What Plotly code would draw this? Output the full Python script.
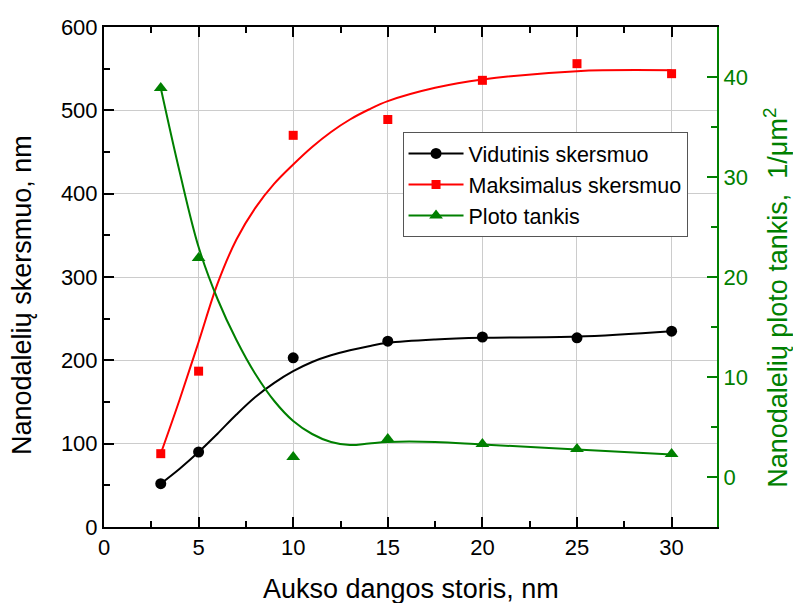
import plotly.graph_objects as go

# ---- data ----
thickness = [3, 5, 10, 15, 20, 25, 30]
mean_diam = [52, 90, 203, 223, 228, 227, 235]
max_diam = [88, 187, 470, 489, 536, 556, 544]
density = [38.9, 21.9, 2.0, 3.8, 3.3, 2.8, 2.3]

# fitted curves as drawn in the picture (read at sample points)
fit_x = [3, 4, 5, 6, 7, 8, 9, 10, 11, 12, 13, 14, 15, 17.5, 20, 25, 30]
mean_fit_y = [52, 70, 90, 112, 135, 156, 173, 187, 198, 206, 212, 217, 221, 225, 227, 228.5, 235]
max_fit_y = [88, 153, 222, 292, 345, 383, 412, 435, 456, 474, 489, 501, 511, 527, 537, 547, 548]
dens_fit_y = [38.9, 30.5, 23.0, 17.8, 13.7, 10.3, 7.6, 5.6, 4.3, 3.5, 3.2, 3.35, 3.5, 3.5, 3.25, 2.75, 2.25]

names = ["Vidutinis skersmuo", "Maksimalus skersmuo", "Ploto tankis"]
x_title = "Aukso dangos storis, nm"
y_title = "Nanodalelių skersmuo, nm"
y2_title = "Nanodalelių ploto tankis,  1/μm<sup>2</sup>"

BLACK = "#000000"
RED = "#ff0000"
GREEN = "#008000"
FONT = "Liberation Sans, Arial, sans-serif"

fig = go.Figure()

# curves
fig.add_trace(go.Scatter(x=fit_x, y=mean_fit_y, mode="lines", line=dict(color=BLACK, width=2, shape="spline"), showlegend=False, hoverinfo="skip"))
fig.add_trace(go.Scatter(x=fit_x, y=max_fit_y, mode="lines", line=dict(color=RED, width=2, shape="spline"), showlegend=False, hoverinfo="skip"))
fig.add_trace(go.Scatter(x=fit_x, y=dens_fit_y, mode="lines", line=dict(color=GREEN, width=2, shape="spline"), showlegend=False, hoverinfo="skip", yaxis="y2"))

# data markers
fig.add_trace(go.Scatter(x=thickness, y=mean_diam, mode="markers", marker=dict(symbol="circle", size=11, color=BLACK), showlegend=False))
fig.add_trace(go.Scatter(x=thickness, y=max_diam, mode="markers", marker=dict(symbol="square", size=9, color=RED), showlegend=False))
fig.add_trace(go.Scatter(x=thickness, y=density, mode="markers", marker=dict(symbol="triangle-up", size=12, color=GREEN), showlegend=False, yaxis="y2"))

# legend entries
fig.add_trace(go.Scatter(x=[None], y=[None], mode="lines+markers", name=names[0], line=dict(color=BLACK, width=2), marker=dict(symbol="circle", size=11, color=BLACK)))
fig.add_trace(go.Scatter(x=[None], y=[None], mode="lines+markers", name=names[1], line=dict(color=RED, width=2), marker=dict(symbol="square", size=9, color=RED)))
fig.add_trace(go.Scatter(x=[None], y=[None], mode="lines+markers", name=names[2], line=dict(color=GREEN, width=2), marker=dict(symbol="triangle-up", size=12, color=GREEN), yaxis="y2"))

fig.update_layout(
    width=793, height=603,
    margin=dict(l=104, r=76, t=27, b=76),
    paper_bgcolor="white", plot_bgcolor="white",
    font=dict(family=FONT, size=22, color=BLACK),
    xaxis=dict(
        range=[0, 32.4], tick0=0, dtick=5, ticks="inside", ticklen=10, tickwidth=2, tickcolor=BLACK,
        showline=True, linewidth=2, linecolor=BLACK, mirror="ticks",
        showgrid=True, gridcolor="#cccccc", gridwidth=1.3, zeroline=False,
        minor=dict(dtick=2.5, tick0=0, ticks="inside", ticklen=6, tickwidth=2, tickcolor=BLACK, showgrid=False),
        tickfont=dict(size=22, color=BLACK),
    ),
    yaxis=dict(
        range=[0, 600], tick0=0, dtick=100, ticks="inside", ticklen=10, tickwidth=2, tickcolor=BLACK,
        showline=True, linewidth=2, linecolor=BLACK,
        showgrid=True, gridcolor="#cccccc", gridwidth=1.3, zeroline=False,
        minor=dict(dtick=50, tick0=0, ticks="inside", ticklen=6, tickwidth=2, tickcolor=BLACK, showgrid=False),
        tickfont=dict(size=22, color=BLACK),
    ),
    yaxis2=dict(
        range=[-5, 45], tick0=0, dtick=10, overlaying="y", side="right",
        ticks="inside", ticklen=10, tickwidth=2, tickcolor=GREEN,
        showline=True, linewidth=2, linecolor=GREEN, showgrid=False, zeroline=False,
        minor=dict(dtick=5, tick0=0, ticks="inside", ticklen=6, tickwidth=2, tickcolor=GREEN, showgrid=False),
        tickfont=dict(size=22, color=GREEN),
        tickvals=[0, 10, 20, 30, 40],
    ),
    legend=dict(
        x=0.487, y=0.79, xanchor="left", yanchor="top",
        bgcolor="white", bordercolor="#555555", borderwidth=1,
        font=dict(size=21.5, color=BLACK), tracegroupgap=0, itemwidth=55,
    ),
    annotations=[
        dict(text=x_title, xref="paper", yref="paper", x=0.5008, y=-0.1236, xanchor="center", yanchor="middle",
             showarrow=False, font=dict(size=27, color=BLACK, family=FONT)),
        dict(text=y_title, xref="paper", yref="paper", x=-0.1338, y=0.464, xanchor="center", yanchor="middle",
             textangle=-90, showarrow=False, font=dict(size=27, color=BLACK, family=FONT)),
        dict(text=y2_title, xref="paper", yref="paper", x=1.096, y=0.458, xanchor="center", yanchor="middle",
             textangle=-90, showarrow=False, font=dict(size=27, color=GREEN, family=FONT)),
    ],
)

fig.write_html("out.html")
